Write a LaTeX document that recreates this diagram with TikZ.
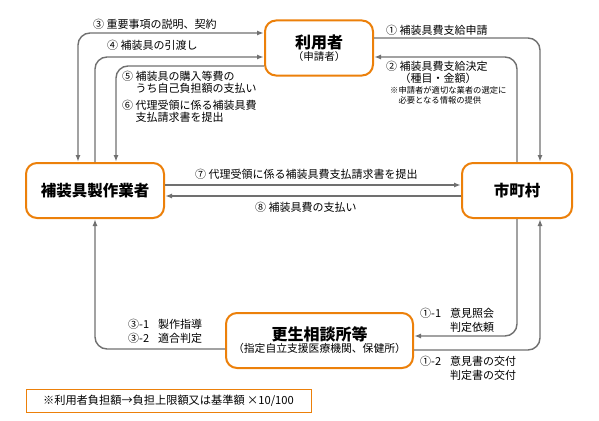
\documentclass[tikz,border=0pt]{standalone}
\usepackage{fontspec}
\setmainfont{Noto Sans CJK JP}
\definecolor{FlowOrange}{RGB}{236,128,10}
\definecolor{FlowGray}{RGB}{112,112,112}
\usetikzlibrary{
    arrows.meta,
    positioning,
}

\begin{document}
\begin{tikzpicture}[x=1pt, y=-1pt,
    >={Latex[length=7pt, width=5pt]},
    party/.style={rectangle, rounded corners=11pt, draw=FlowOrange, line width=2pt, fill=white, minimum width=#1, minimum height=55pt, align=center, inner sep=0pt},
    ttl/.style={font=\fontsize{15.5}{18}\selectfont\bfseries},
    arr/.style={->, line width=1.4pt, FlowGray, rounded corners=12pt},
    lbl/.style={font=\fontsize{11}{12}\selectfont, anchor=west, align=left, inner sep=0pt},
    tinylbl/.style={font=\fontsize{8.3}{10}\selectfont, anchor=west, align=left, inner sep=0pt}
]
    \useasboundingbox (0,0) rectangle (599,420);
    \node[party=108pt] (usr) at (319,48) {{\bfseries\fontsize{16}{19}\selectfont 利用者}\\{\fontsize{10.5}{12}\selectfont （申請者）}};
    \node[party=138pt, ttl] (mkr) at (95,190.5) {補装具製作業者};
    \node[party=110pt, ttl] (city) at (517,190.5) {市町村};
    \node[party=187pt] (soudan) at (319.5,340.5) {{\bfseries\fontsize{16}{19}\selectfont 更生相談所等}\\{\fontsize{10.8}{12}\selectfont （指定自立支援医療機関、保健所）}};
    \node[draw=FlowOrange, line width=1pt, minimum width=285pt, minimum height=23pt, inner sep=0pt, font=\fontsize{11.2}{12}\selectfont] (note) at (168.5,400.5) {※利用者負担額→負担上限額又は基準額 ×10/100};

    \draw[arr, <->] ([xshift=-17pt]mkr.north) |- ([yshift=15pt]usr.west);
    \draw[arr] (mkr.north) |- ([yshift=-9pt]usr.west);
    \draw[arr] ([yshift=-18pt]usr.west) -| ([xshift=21pt]mkr.north);
    \draw[arr] ([yshift=10pt]usr.east) -| ([xshift=23pt]city.north);
    \draw[arr] (city.north) |- ([yshift=-9pt]usr.east);
    \draw[arr] ([yshift=5.5pt]mkr.east) -- ([yshift=5.5pt]city.west);
    \draw[arr] ([yshift=-5.5pt]city.west) -- ([yshift=-5.5pt]mkr.east);
    \draw[arr] (city.south) |- ([yshift=4.5pt]soudan.east);
    \draw[arr] ([yshift=-9.5pt]soudan.east) -| ([xshift=23pt]city.south);
    \draw[arr] ([yshift=-8.5pt]soudan.west) -| (mkr.south);

    \node[lbl] (l3) at (93,24) {③ 重要事項の説明、契約};
    \node[lbl] (l4) at (107,45) {④ 補装具の引渡し};
    \node[lbl] (l5) at (122,82.5) {⑤ 補装具の購入等費の\\\phantom{⑤ }うち自己負担額の支払い};
    \node[lbl] (l6) at (122,111) {⑥ 代理受領に係る補装具費\\\phantom{⑥ }支払請求書を提出};
    \node[lbl] (l1) at (386,30) {① 補装具費支給申請};
    \node[lbl] (l2) at (386,72.5) {② 補装具費支給決定\\\phantom{② }（種目・金額）};
    \node[tinylbl] (n2) at (390,95) {※申請者が適切な業者の選定に\\\phantom{※}必要となる情報の提供};
    \node[lbl] (l7) at (195,174) {⑦ 代理受領に係る補装具費支払請求書を提出};
    \node[lbl] (l8) at (255,207) {⑧ 補装具費の支払い};
    \node[lbl] (l31) at (128,331) {\makebox[30pt][l]{③-1}製作指導\\[2pt]\makebox[30pt][l]{③-2}適合判定};
    \node[lbl] (l11) at (420,320) {\makebox[30pt][l]{①-1}意見照会\\[2pt]\hspace*{30pt}判定依頼};
    \node[lbl] (l12) at (420,368.5) {\makebox[30pt][l]{①-2}意見書の交付\\[2pt]\hspace*{30pt}判定書の交付};
\end{tikzpicture}
\end{document}
